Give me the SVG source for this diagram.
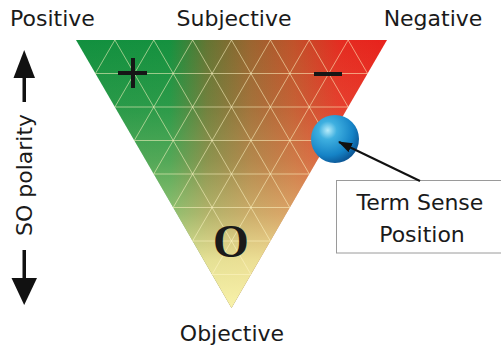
<svg xmlns="http://www.w3.org/2000/svg" width="501" height="349" viewBox="0 0 501 349">
  <defs>
    <linearGradient id="hue" gradientUnits="userSpaceOnUse" x1="76" y1="0" x2="387" y2="0">
      <stop offset="0" stop-color="#12903f"/>
      <stop offset="0.3" stop-color="#15913f"/>
      <stop offset="0.42" stop-color="#637533"/>
      <stop offset="0.56" stop-color="#9a6530"/>
      <stop offset="0.7" stop-color="#c0522a"/>
      <stop offset="0.85" stop-color="#e42c21"/>
      <stop offset="1" stop-color="#e8221c"/>
    </linearGradient>
    <linearGradient id="fade" gradientUnits="userSpaceOnUse" x1="0" y1="40" x2="0" y2="308">
      <stop offset="0" stop-color="#f6efa2" stop-opacity="0"/>
      <stop offset="0.25" stop-color="#f6efa2" stop-opacity="0.1"/>
      <stop offset="0.45" stop-color="#f2e496" stop-opacity="0.28"/>
      <stop offset="0.65" stop-color="#f4e89a" stop-opacity="0.55"/>
      <stop offset="0.82" stop-color="#f6efa2" stop-opacity="0.88"/>
      <stop offset="1" stop-color="#f8f2aa" stop-opacity="1"/>
    </linearGradient>
    <radialGradient id="ball" cx="0.35" cy="0.32" r="0.75">
      <stop offset="0" stop-color="#b8ecfa"/>
      <stop offset="0.25" stop-color="#3fb0e0"/>
      <stop offset="0.7" stop-color="#1583c6"/>
      <stop offset="1" stop-color="#0a4f8e"/>
    </radialGradient>
    <marker id="head" markerWidth="14" markerHeight="10" refX="13" refY="5" orient="auto" markerUnits="userSpaceOnUse">
      <path d="M0,0 L14,5 L0,10 z" fill="#111"/>
    </marker>
  </defs>
  <style>
    .lbl { font-family: "DejaVu Sans", "Liberation Sans", sans-serif; font-size: 22px; fill: #1a1a1a; }
    .grid line { stroke: #fff6c4; stroke-opacity: 0.55; stroke-width: 1; }
    .sign { fill: #161616; }
    .conn { stroke: #111; stroke-width: 2; fill: none; }
  </style>

  <g id="triangle">
    <polygon points="76,40 387,40 231.5,308" fill="url(#hue)"/>
    <polygon points="76,40 387,40 231.5,308" fill="url(#fade)"/>
    <g class="grid">
      <line x1="95.44" y1="73.5" x2="367.56" y2="73.5"/>
      <line x1="114.88" y1="107" x2="348.13" y2="107"/>
      <line x1="134.31" y1="140.5" x2="328.69" y2="140.5"/>
      <line x1="153.75" y1="174" x2="309.25" y2="174"/>
      <line x1="173.19" y1="207.5" x2="289.81" y2="207.5"/>
      <line x1="192.63" y1="241" x2="270.38" y2="241"/>
      <line x1="212.06" y1="274.5" x2="250.94" y2="274.5"/>
      <line x1="114.88" y1="40" x2="250.94" y2="274.5"/>
      <line x1="153.75" y1="40" x2="270.38" y2="241"/>
      <line x1="192.63" y1="40" x2="289.81" y2="207.5"/>
      <line x1="231.5" y1="40" x2="309.25" y2="174"/>
      <line x1="270.38" y1="40" x2="328.69" y2="140.5"/>
      <line x1="309.25" y1="40" x2="348.13" y2="107"/>
      <line x1="348.13" y1="40" x2="367.56" y2="73.5"/>
      <line x1="114.88" y1="40" x2="95.44" y2="73.5"/>
      <line x1="153.75" y1="40" x2="114.88" y2="107"/>
      <line x1="192.63" y1="40" x2="134.31" y2="140.5"/>
      <line x1="231.5" y1="40" x2="153.75" y2="174"/>
      <line x1="270.38" y1="40" x2="173.19" y2="207.5"/>
      <line x1="309.25" y1="40" x2="192.63" y2="241"/>
      <line x1="348.13" y1="40" x2="212.06" y2="274.5"/>
    </g>
    <g id="plus" class="sign">
      <rect x="118" y="71" width="29" height="4"/>
      <rect x="131" y="58" width="4" height="30"/>
    </g>
    <rect id="minus" class="sign" x="314" y="72" width="28" height="4"/>
    <text id="zero" x="231" y="257" text-anchor="middle" font-family="Liberation Serif, serif" font-size="46" font-weight="bold" fill="#1a1a1a">O</text>
  </g>

  <g id="label-positive"><text class="lbl" x="52.5" y="26" text-anchor="middle">Positive</text></g>
  <g id="label-subjective"><text class="lbl" x="234" y="26" text-anchor="middle">Subjective</text></g>
  <g id="label-negative"><text class="lbl" x="433" y="26" text-anchor="middle">Negative</text></g>
  <g id="label-objective"><text class="lbl" x="232" y="341" text-anchor="middle">Objective</text></g>

  <g id="polarity-axis">
    <rect x="22.5" y="74" width="3.5" height="28" fill="#111"/>
    <polygon points="24.2,50 35,78 13.5,78" fill="#111"/>
    <text class="lbl" transform="translate(32,175) rotate(-90)" text-anchor="middle">SO polarity</text>
    <rect x="22.5" y="250" width="3.5" height="32" fill="#111"/>
    <polygon points="24.2,305 37,278 11.5,278" fill="#111"/>
  </g>

  <g id="sphere">
    <circle cx="335" cy="139" r="24" fill="url(#ball)"/>
  </g>

  <g id="term-sense-box">
    <rect x="336.5" y="180.5" width="170" height="72.5" fill="#fff" stroke="#9a9a9a" stroke-width="1"/>
    <text class="lbl" x="420" y="210" text-anchor="middle">Term Sense</text>
    <text class="lbl" x="422" y="242" text-anchor="middle">Position</text>
  </g>

  <g id="connectors">
    <line class="conn" x1="420" y1="181" x2="339" y2="142" marker-end="url(#head)"/>
  </g>
</svg>
